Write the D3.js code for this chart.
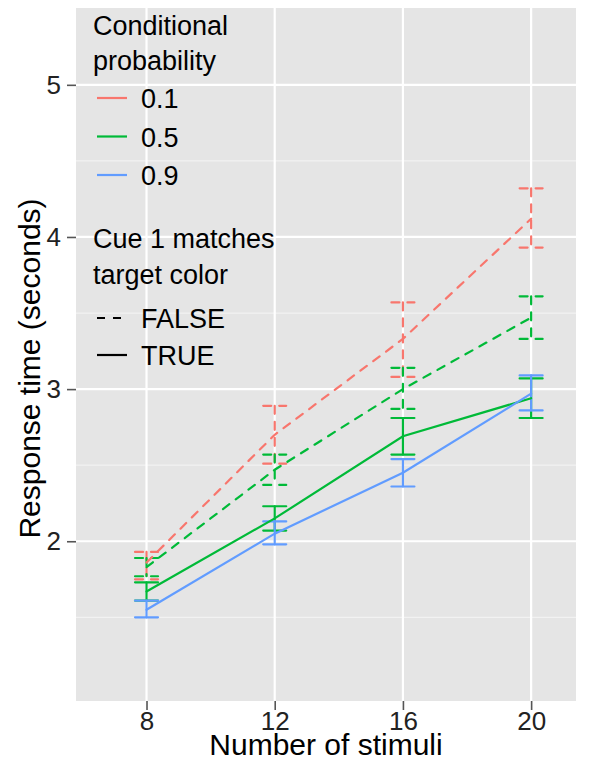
<!DOCTYPE html>
<html>
<head>
<meta charset="utf-8">
<script src="https://cdn.jsdelivr.net/npm/d3@7"></script>
<style>
  html, body { margin: 0; padding: 0; background: #ffffff; }
  svg { display: block; font-family: "Liberation Sans", Arial, sans-serif; }
</style>
</head>
<body>
<svg id="chart" width="589" height="761"></svg>
<script>
// Number of stimuli on the x axis
const stimuli = [8, 12, 16, 20];
const xTicks = [8, 12, 16, 20];
const yTicks = [2, 3, 4, 5];
const yMinor = [1.5, 2.5, 3.5, 4.5];

// Legend levels
const probLevels = ["0.1", "0.5", "0.9"];
const probColors = ["#F8766D", "#00BA38", "#619CFF"];
const matchLevels = ["FALSE", "TRUE"];

// Mean response time (seconds) and error-bar bounds per series
const p01False = { prob: "0.1", match: "FALSE",
  mean: [1.86, 2.70, 3.33, 4.12], lo: [1.75, 2.51, 3.08, 3.93], hi: [1.93, 2.89, 3.57, 4.32] };
const p05False = { prob: "0.5", match: "FALSE",
  mean: [1.83, 2.47, 3.00, 3.47], lo: [1.77, 2.37, 2.87, 3.33], hi: [1.89, 2.57, 3.14, 3.61] };
const p05True = { prob: "0.5", match: "TRUE",
  mean: [1.67, 2.15, 2.69, 2.94], lo: [1.61, 2.07, 2.57, 2.81], hi: [1.73, 2.23, 2.81, 3.07] };
const p09True = { prob: "0.9", match: "TRUE",
  mean: [1.55, 2.05, 2.45, 2.97], lo: [1.50, 1.98, 2.36, 2.86], hi: [1.61, 2.13, 2.54, 3.09] };
const seriesList = [p01False, p05False, p05True, p09True];

const xLimits = [5.8, 21.4];
const yLimits = [0.95, 5.505];

const panel = { left: 76, right: 576, top: 8, bottom: 701 };
const svg = d3.select("#chart");

const x = d3.scaleLinear().domain(xLimits).range([panel.left, panel.right]);
const y = d3.scaleLinear().domain(yLimits).range([panel.bottom, panel.top]);
const color = d3.scaleOrdinal().domain(probLevels).range(probColors);
const dash = d3.scaleOrdinal().domain(matchLevels).range(["8,8", null]);

const LW = 2.2;
const textCol = "#222";

// Panel background and grid
svg.append("rect")
  .attr("x", panel.left).attr("y", panel.top)
  .attr("width", panel.right - panel.left).attr("height", panel.bottom - panel.top)
  .attr("fill", "#E5E5E5");

svg.append("g").selectAll("line").data(yMinor).join("line")
  .attr("x1", panel.left).attr("x2", panel.right)
  .attr("y1", d => y(d)).attr("y2", d => y(d))
  .attr("stroke", "#F2F2F2").attr("stroke-width", 1.2);

svg.append("g").selectAll("line").data(yTicks).join("line")
  .attr("x1", panel.left).attr("x2", panel.right)
  .attr("y1", d => y(d)).attr("y2", d => y(d))
  .attr("stroke", "#FFFFFF").attr("stroke-width", 2.2);

svg.append("g").selectAll("line").data(xTicks).join("line")
  .attr("y1", panel.top).attr("y2", panel.bottom)
  .attr("x1", d => x(d)).attr("x2", d => x(d))
  .attr("stroke", "#FFFFFF").attr("stroke-width", 2.2);

// Axes
const xAxis = svg.append("g")
  .attr("transform", `translate(0,${panel.bottom})`)
  .call(d3.axisBottom(x).tickValues(xTicks).tickSize(9).tickPadding(2).tickFormat(d3.format("d")));
const yAxis = svg.append("g")
  .attr("transform", `translate(${panel.left},0)`)
  .call(d3.axisLeft(y).tickValues(yTicks).tickSize(9).tickPadding(6).tickFormat(d3.format("d")));
[xAxis, yAxis].forEach(g => {
  g.select(".domain").remove();
  g.selectAll(".tick line").attr("stroke", "#555").attr("stroke-width", 1.6);
  g.selectAll(".tick text").attr("fill", textCol)
    .style("font-size", "26px").style("font-family", "'Liberation Sans', Arial, sans-serif");
});

// Axis titles
svg.append("text")
  .attr("x", (panel.left + panel.right) / 2).attr("y", 755)
  .attr("text-anchor", "middle").attr("fill", "#000")
  .style("font-size", "30px")
  .text("Number of stimuli");
svg.append("text")
  .attr("transform", `translate(40,${(panel.top + panel.bottom) / 2 + 14}) rotate(-90)`)
  .attr("text-anchor", "middle").attr("fill", "#000")
  .style("font-size", "30px")
  .text("Response time (seconds)");

// Error bars: top cap, vertical stem, bottom cap drawn as separate strokes
const capHalf = 11.5;
const plot = svg.append("g");
seriesList.forEach(s => {
  const g = plot.append("g")
    .attr("stroke", color(s.prob))
    .attr("stroke-width", LW)
    .attr("stroke-linecap", "round")
    .attr("fill", "none")
    .attr("stroke-dasharray", dash(s.match));
  stimuli.forEach((n, i) => {
    const cx = x(n);
    g.append("path").attr("d", `M${cx - capHalf},${y(s.hi[i])}H${cx + capHalf}`);
    g.append("path").attr("d", `M${cx},${y(s.hi[i])}V${y(s.lo[i])}`);
    g.append("path").attr("d", `M${cx - capHalf},${y(s.lo[i])}H${cx + capHalf}`);
  });
});

// Mean lines
const line = d3.line().x(d => x(d[0])).y(d => y(d[1]));
seriesList.forEach(s => {
  plot.append("path")
    .datum(stimuli.map((n, i) => [n, s.mean[i]]))
    .attr("d", line)
    .attr("fill", "none")
    .attr("stroke", color(s.prob))
    .attr("stroke-width", LW)
    .attr("stroke-linecap", "round")
    .attr("stroke-dasharray", dash(s.match));
});

// Legends
const leg = svg.append("g").style("font-size", "27px").attr("fill", "#000");
const legX = 93, keyX0 = 97, keyX1 = 127, labX = 141;
leg.append("text").attr("x", legX).attr("y", 35).text("Conditional");
leg.append("text").attr("x", legX).attr("y", 70).text("probability");
probLevels.forEach((p, i) => {
  const cy = 98 + i * 38.5;
  leg.append("line").attr("x1", keyX0).attr("x2", keyX1).attr("y1", cy).attr("y2", cy)
    .attr("stroke", color(p)).attr("stroke-width", LW);
  leg.append("text").attr("x", labX).attr("y", cy + 10).text(p);
});
leg.append("text").attr("x", legX).attr("y", 248).text("Cue 1 matches");
leg.append("text").attr("x", legX).attr("y", 284).text("target color");
matchLevels.forEach((m, i) => {
  const cy = 318 + i * 37;
  leg.append("line").attr("x1", keyX0).attr("x2", keyX1).attr("y1", cy).attr("y2", cy)
    .attr("stroke", "#000").attr("stroke-width", LW)
    .attr("stroke-dasharray", dash(m));
  leg.append("text").attr("x", labX).attr("y", cy + 10).text(m);
});
</script>
</body>
</html>
